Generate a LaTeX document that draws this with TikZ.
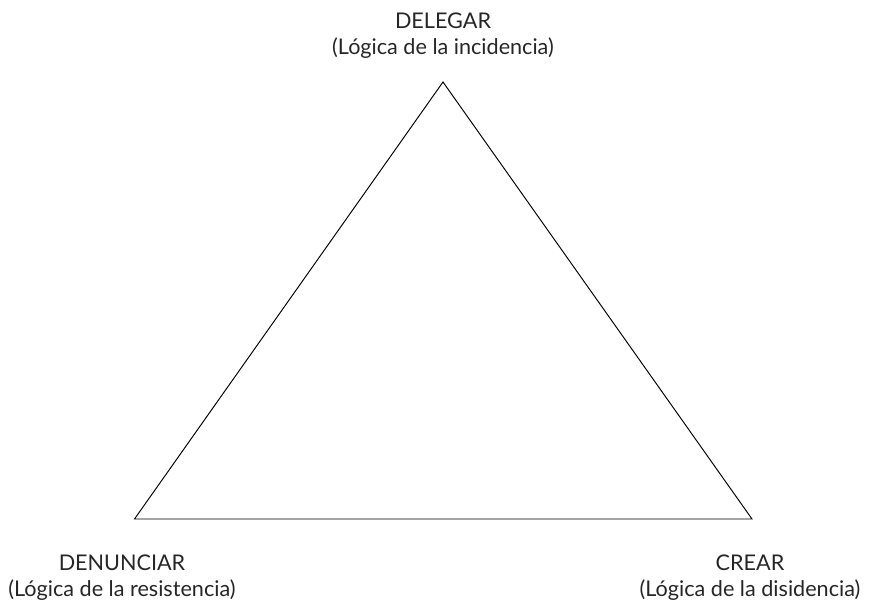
\documentclass[tikz,border=0pt]{standalone}
\usepackage{fontspec}
\setmainfont{Lato}
\usepackage{tikz}
\usetikzlibrary{calc}

\begin{document}
\begin{tikzpicture}
[x=0.02cm,y=-0.02cm,vertex/.style={inner sep=0pt},tag/.style={align=center,font=\fontsize{12.3}{14.8}\selectfont,text=black!85}]
\useasboundingbox (0,0) rectangle (877,600);

%Vertices
\node (T) at (443,82)[vertex] {};
\node (L) at (134.5,519)[vertex] {};
\node (R) at (752,519)[vertex] {};

%Labeling vertices
\node (delegar) at (443,36)[tag] {DELEGAR\\(Lógica de la incidencia)};
\node (denunciar) at (122,578)[tag] {DENUNCIAR\\(Lógica de la resistencia)};
\node (crear) at (750,578)[tag] {CREAR\\(Lógica de la disidencia)};

%Drawing triangle
\draw[line width=0.55pt] (T.center) -- (R.center) -- (L.center) -- cycle;
\end{tikzpicture}
\end{document}
